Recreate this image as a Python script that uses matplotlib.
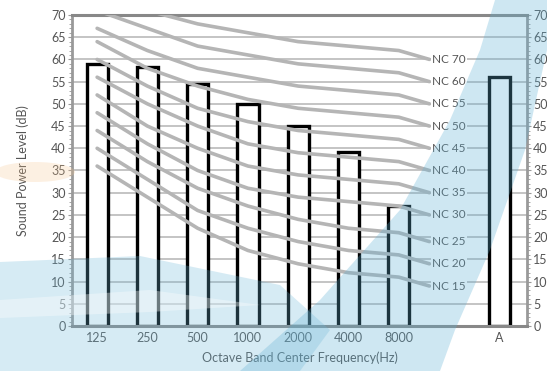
import numpy as np
import matplotlib
matplotlib.use("Agg")
import matplotlib.pyplot as plt
from matplotlib.patches import Polygon, Ellipse

# --- data ---
bands = ["125", "250", "500", "1000", "2000", "4000", "8000"]
band_levels = [59, 58.3, 54.5, 50, 45, 39.2, 27]
a_label = "A"
a_level = 56

# NC curves (125 Hz .. 8000 Hz), top to bottom
nc_labels = ["NC 70", "NC 60", "NC 55", "NC 50", "NC 45", "NC 40",
             "NC 35", "NC 30", "NC 25", "NC 20", "NC 15"]
nc_values = [
    [75, 71, 68, 66, 64, 63, 62],
    [71, 67, 63, 61, 59, 58, 57],
    [67, 62, 58, 56, 54, 53, 52],
    [64, 58, 54, 51, 49, 48, 47],
    [60, 54, 49, 46, 44, 43, 42],
    [56, 50, 45, 41, 39, 38, 37],
    [52, 45, 40, 36, 34, 33, 32],
    [48, 41, 35, 31, 29, 28, 27],
    [44, 37, 31, 27, 24, 22, 21],
    [40, 33, 26, 22, 19, 17, 16],
    [36, 29, 22, 17, 14, 12, 11],
]
nc_label_y = [60, 55, 50, 45, 40, 35, 30, 25, 19, 14, 9]

GRAY_TXT = "#555555"
plt.rcParams["font.family"] = ["Lato", "DejaVu Sans"]

fig = plt.figure(figsize=(5.47, 3.71), dpi=100)
fig.patch.set_facecolor("white")
ax = fig.add_axes([0.1316, 0.1213, 0.8318, 0.8383])
ax.set_facecolor("white")

x_bands = np.arange(len(bands))
x_a = 8
label_x = 6.66

# grid
ax.set_ylim(0, 70)
ax.set_xlim(-0.5, 8.55)
ax.set_yticks(np.arange(0, 71, 5))
ax.set_yticks(np.arange(0, 71, 1), minor=True)
ax.yaxis.grid(True, which="major", color="#c4c4c4", linewidth=1.4, zorder=0)
ax.set_axisbelow(True)

# bars
bar_kw = dict(width=0.42, facecolor="white", edgecolor="black",
              linewidth=2.4, zorder=2)
ax.bar(x_bands, band_levels, **bar_kw)
ax.bar([x_a], [a_level], **bar_kw)

# NC curves
for vals, lab, ly in zip(nc_values, nc_labels, nc_label_y):
    xs = list(x_bands) + [label_x - 0.05]
    ys = list(vals) + [ly]
    ax.plot(xs, ys, color="#b5b5b5", linewidth=2.6, solid_capstyle="round",
            solid_joinstyle="round", zorder=3)
    ax.text(label_x, ly, lab, fontsize=8.5, color=GRAY_TXT, ha="left",
            va="center", zorder=4,
            bbox=dict(facecolor="white", edgecolor="none", pad=1.0))

# axes styling
ax.set_xticks(list(x_bands) + [x_a])
ax.set_xticklabels(bands + [a_label])
ax.tick_params(axis="x", length=0, labelsize=9, labelcolor=GRAY_TXT, pad=4)
ax.tick_params(axis="y", which="major", length=3, color="#999999",
               labelsize=9, labelcolor=GRAY_TXT, left=True, right=True,
               labelleft=True, labelright=True, direction="out", pad=1.5)
ax.tick_params(axis="y", which="minor", length=2, color="#999999",
               left=True, right=True, direction="out")
for side in ["left", "right"]:
    ax.spines[side].set_color("#999999")
    ax.spines[side].set_linewidth(2)
for side in ["top", "bottom"]:
    ax.spines[side].set_color("#888888")
    ax.spines[side].set_linewidth(2.2)

ax.set_ylabel("Sound Power Level (dB)", fontsize=9, color=GRAY_TXT, labelpad=16)
ax.set_xlabel("Octave Band Center Frequency(Hz)", fontsize=9,
              color=GRAY_TXT, labelpad=6)

# decorative background swoosh (overlay)
W, H = 547.0, 371.0
def px(pts):
    return [(x / W, 1 - y / H) for x, y in pts]

band = Polygon(px([(240, 371), (320, 300), (400, 210), (450, 120), (480, 50),
                   (495, 0), (547, 0), (547, 50), (525, 150), (490, 250),
                   (455, 330), (440, 371)]),
               closed=True, transform=fig.transFigure,
               facecolor="#5fb0d4", edgecolor="none", alpha=0.30, zorder=10)
fig.patches.append(band)
low = Polygon(px([(0, 262), (140, 256), (280, 285), (330, 330), (300, 371),
                  (0, 371)]),
              closed=True, transform=fig.transFigure,
              facecolor="#6fb8d8", edgecolor="none", alpha=0.28, zorder=10)
fig.patches.append(low)
streak = Polygon(px([(0, 300), (150, 290), (260, 305), (150, 312), (0, 318)]),
                 closed=True, transform=fig.transFigure,
                 facecolor="white", edgecolor="none", alpha=0.35, zorder=11)
fig.patches.append(streak)
glow = Ellipse((35 / W, 1 - 172 / H), 80 / W, 20 / H,
               transform=fig.transFigure, facecolor="#f7c48c",
               edgecolor="none", alpha=0.25, zorder=10)
fig.patches.append(glow)

fig.savefig("out.png", dpi=100)
